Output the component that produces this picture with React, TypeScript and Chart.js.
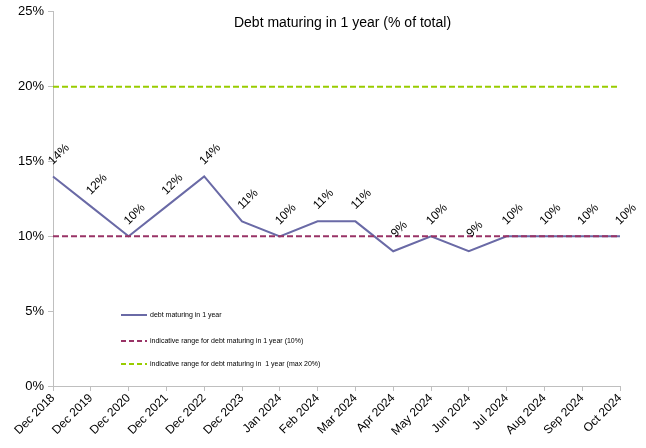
import React, { useEffect, useRef } from "react";
import { Chart, registerables } from "chart.js";

Chart.register(...registerables);

const categories = [
  "Dec 2018", "Dec 2019", "Dec 2020", "Dec 2021", "Dec 2022", "Dec 2023",
  "Jan 2024", "Feb 2024", "Mar 2024", "Apr 2024", "May 2024", "Jun 2024",
  "Jul 2024", "Aug 2024", "Sep 2024", "Oct 2024",
];
const debtMaturing = [14, 12, 10, 12, 14, 11, 10, 11, 11, 9, 10, 9, 10, 10, 10, 10];
const indicativeRange = [10, 10, 10, 10, 10, 10, 10, 10, 10, 10, 10, 10, 10, 10, 10, 10];
const indicativeMax = [20, 20, 20, 20, 20, 20, 20, 20, 20, 20, 20, 20, 20, 20, 20, 20];
const yTickValues = [0, 5, 10, 15, 20, 25];
const titleText = "Debt maturing in 1 year (% of total)";
const seriesNames = [
  "debt maturing in 1 year",
  "indicative range for debt maturing in 1 year (10%)",
  "indicative range for debt maturing in  1 year (max 20%)",
];

const MAIN_COLOR = "#6A6AA6";
const RED_COLOR = "#993366";
const GREEN_COLOR = "#99CC00";
const AXIS_COLOR = "#BFBFBF";

const overlayPlugin = {
  id: "overlay",
  afterDatasetsDraw(chart: any) {
    const ctx = chart.ctx;
    const area = chart.chartArea;
    // data labels
    const meta = chart.getDatasetMeta(0);
    ctx.save();
    ctx.fillStyle = "#000";
    ctx.font = "12px 'Liberation Sans', Arial, sans-serif";
    ctx.textAlign = "center";
    ctx.textBaseline = "middle";
    meta.data.forEach((pt: any, i: number) => {
      ctx.save();
      ctx.translate(pt.x + 6, pt.y - 22);
      ctx.rotate(-Math.PI / 4);
      ctx.fillText(debtMaturing[i] + "%", 0, 0);
      ctx.restore();
    });
    ctx.restore();

    // title
    ctx.save();
    ctx.fillStyle = "#000";
    ctx.font = "14px 'Liberation Sans', Arial, sans-serif";
    ctx.textAlign = "center";
    ctx.textBaseline = "middle";
    ctx.fillText(titleText, (area.left + area.right) / 2 + 6, 23);
    ctx.restore();

    // legend
    const colors = [MAIN_COLOR, RED_COLOR, GREEN_COLOR];
    const dashes = [[], [5, 3], [5, 3]];
    const rowsY = [315, 341, 364];
    ctx.save();
    ctx.font = "7px 'Liberation Sans', Arial, sans-serif";
    ctx.textBaseline = "middle";
    ctx.textAlign = "left";
    seriesNames.forEach((name, i) => {
      ctx.strokeStyle = colors[i];
      ctx.lineWidth = 2;
      ctx.setLineDash(dashes[i]);
      ctx.beginPath();
      ctx.moveTo(area.left + 68, rowsY[i]);
      ctx.lineTo(area.left + 94, rowsY[i]);
      ctx.stroke();
      ctx.setLineDash([]);
      ctx.fillStyle = "#000";
      ctx.fillText(name, area.left + 97, rowsY[i]);
    });
    ctx.restore();
  },
};

export default function App() {
  const ref = useRef<HTMLCanvasElement | null>(null);

  useEffect(() => {
    document.body.style.margin = "0";
    if (!ref.current) return;
    const chart = new Chart(ref.current, {
      type: "line",
      data: {
        labels: categories,
        datasets: [
          {
            label: seriesNames[0],
            data: debtMaturing,
            borderColor: MAIN_COLOR,
            backgroundColor: MAIN_COLOR,
            borderWidth: 2,
            pointRadius: 0,
            tension: 0,
            order: 2,
          },
          {
            label: seriesNames[1],
            data: indicativeRange,
            borderColor: RED_COLOR,
            backgroundColor: RED_COLOR,
            borderWidth: 2,
            borderDash: [6, 3],
            pointRadius: 0,
            order: 1,
          },
          {
            label: seriesNames[2],
            data: indicativeMax,
            borderColor: GREEN_COLOR,
            backgroundColor: GREEN_COLOR,
            borderWidth: 2,
            borderDash: [6, 3],
            pointRadius: 0,
            order: 0,
          },
        ],
      },
      options: {
        responsive: false,
        animation: false,
        layout: { padding: { top: 11, right: 26, left: 0, bottom: 0 } },
        plugins: {
          legend: { display: false },
          title: { display: false },
          tooltip: { enabled: false },
        },
        scales: {
          x: {
            offset: false,
            grid: {
              display: true,
              drawOnChartArea: false,
              drawTicks: true,
              tickLength: 5,
              color: AXIS_COLOR,
            },
            border: { color: AXIS_COLOR, width: 1 },
            ticks: {
              color: "#000",
              font: { family: "'Liberation Sans', Arial, sans-serif", size: 12 },
              maxRotation: 45,
              minRotation: 45,
              autoSkip: false,
              padding: 0,
            },
            afterFit(scale: any) {
              scale.height = 62;
            },
          },
          y: {
            min: 0,
            max: 25,
            afterBuildTicks(scale: any) {
              scale.ticks = yTickValues.map((v) => ({ value: v }));
            },
            grid: {
              display: true,
              drawOnChartArea: false,
              drawTicks: true,
              tickLength: 5,
              color: AXIS_COLOR,
            },
            border: { color: AXIS_COLOR, width: 1 },
            ticks: {
              color: "#000",
              font: { family: "'Liberation Sans', Arial, sans-serif", size: 13 },
              padding: 4,
              callback: (v: any) => v + "%",
            },
            afterFit(scale: any) {
              scale.width = 53;
            },
          },
        },
      },
      plugins: [overlayPlugin],
    });
    return () => chart.destroy();
  }, []);

  return (
    <div style={{ position: "absolute", left: 0, top: 0, width: 646, height: 448, background: "#fff" }}>
      <canvas ref={ref} width={646} height={448} />
    </div>
  );
}
